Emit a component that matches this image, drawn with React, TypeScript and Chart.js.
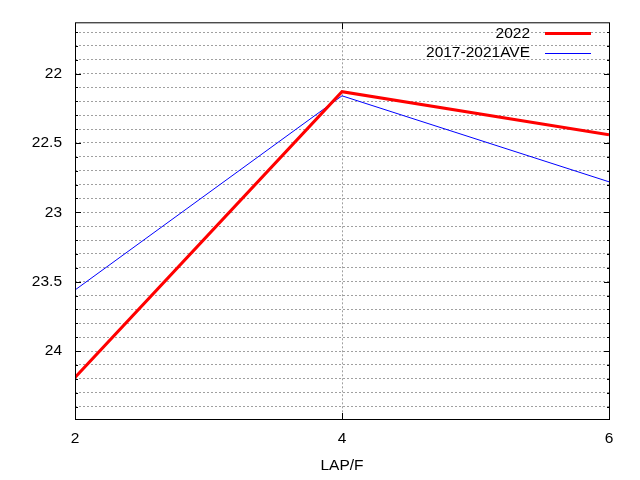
import { useEffect, useRef } from 'react';
import { Chart, registerables } from 'chart.js';

Chart.register(...registerables);

// values
const laps = [2, 4, 6];
const times2022 = [24.19, 22.13, 22.44];
const timesAve = [23.56, 22.16, 22.78];
const seriesNames = ['2022', '2017-2021AVE'];
const seriesColors = ['#ff0000', '#0000ff'];
const seriesWidths = [3, 1];

const FONT = "'Liberation Sans', Arial, sans-serif";
const FONT_SIZE = 15.5;
const GRID = '#a0a0a0';

const isMajor = (v: number) => Math.abs(v * 2 - Math.round(v * 2)) < 1e-6;

// gnuplot-like frame, inward tick marks and a legend inside the plot
const framePlugin = {
  id: 'frame',
  afterDatasetsDraw(chart: any) {
    const { ctx, chartArea } = chart;
    const { left, right, top, bottom } = chartArea;
    const xs = chart.scales.x;
    const ys = chart.scales.y;
    ctx.save();
    ctx.strokeStyle = '#000';
    ctx.lineWidth = 1;
    ctx.setLineDash([]);
    ctx.strokeRect(left + 0.5, top + 0.5, right - left, bottom - top);

    ctx.beginPath();
    ys.ticks.forEach((t: any) => {
      const y = Math.round(ys.getPixelForValue(t.value)) + 0.5;
      const len = isMajor(t.value) ? 6 : 3;
      ctx.moveTo(left, y);
      ctx.lineTo(left + len, y);
      ctx.moveTo(right + 1, y);
      ctx.lineTo(right + 1 - len, y);
    });
    xs.ticks.forEach((t: any) => {
      const x = Math.round(xs.getPixelForValue(t.value)) + 0.5;
      ctx.moveTo(x, bottom);
      ctx.lineTo(x, bottom - 6);
      ctx.moveTo(x, top + 1);
      ctx.lineTo(x, top + 7);
    });
    ctx.stroke();

    // legend
    ctx.font = `${FONT_SIZE}px ${FONT}`;
    ctx.textAlign = 'right';
    ctx.textBaseline = 'middle';
    seriesNames.forEach((name, i) => {
      const y = 33 + i * 19.5;
      ctx.fillStyle = '#000';
      ctx.fillText(name, right - 79, y + 0.5);
      ctx.strokeStyle = seriesColors[i];
      ctx.lineWidth = seriesWidths[i];
      ctx.beginPath();
      ctx.moveTo(right - 64, Math.round(y) + (seriesWidths[i] % 2 ? 0.5 : 0));
      ctx.lineTo(right - 18, Math.round(y) + (seriesWidths[i] % 2 ? 0.5 : 0));
      ctx.stroke();
    });
    ctx.restore();
  },
};

const App = () => {
  const canvasRef = useRef<HTMLCanvasElement | null>(null);
  const chartRef = useRef<Chart | null>(null);

  useEffect(() => {
    document.body.style.margin = '0';
    if (!canvasRef.current) return;
    if (chartRef.current) chartRef.current.destroy();

    const series = [times2022, timesAve];

    chartRef.current = new Chart(canvasRef.current, {
      type: 'line',
      data: {
        datasets: series.map((vals, i) => ({
          label: seriesNames[i],
          data: laps.map((x, j) => ({ x, y: vals[j] })),
          borderColor: seriesColors[i],
          borderWidth: seriesWidths[i],
          pointRadius: 0,
          tension: 0,
          fill: false,
        })),
      },
      options: {
        responsive: false,
        animation: false,
        layout: { padding: { top: 19, right: 31, left: 0, bottom: 0 } },
        plugins: {
          legend: { display: false },
          tooltip: { enabled: false },
        },
        scales: {
          x: {
            type: 'linear',
            min: 2,
            max: 6,
            afterFit: (scale: any) => {
              scale.height = 61;
            },
            ticks: {
              stepSize: 2,
              padding: 10,
              color: '#000',
              font: { family: FONT, size: FONT_SIZE },
            },
            grid: {
              drawTicks: false,
              color: (c: any) => (c.tick && c.tick.value === 4 ? GRID : 'rgba(0,0,0,0)'),
            },
            border: { display: false, dash: [2, 2] },
            title: {
              display: true,
              text: 'LAP/F',
              color: '#000',
              font: { family: FONT, size: FONT_SIZE },
              padding: { top: 5, bottom: 5 },
            },
          },
          y: {
            type: 'linear',
            reverse: true,
            min: 21.63,
            max: 24.49,
            afterFit: (scale: any) => {
              scale.width = 75;
            },
            ticks: {
              stepSize: 0.1,
              includeBounds: false,
              autoSkip: false,
              padding: 13,
              color: '#000',
              font: { family: FONT, size: FONT_SIZE },
              callback: (v: any) => (isMajor(Number(v)) ? String(Math.round(Number(v) * 2) / 2) : ''),
            },
            grid: {
              drawTicks: false,
              color: GRID,
            },
            border: { display: false, dash: [2, 2] },
          },
        },
      },
      plugins: [framePlugin],
    });

    return () => {
      if (chartRef.current) {
        chartRef.current.destroy();
        chartRef.current = null;
      }
    };
  }, []);

  return (
    <div style={{ width: 640, height: 480, background: '#fff' }}>
      <canvas ref={canvasRef} width={640} height={480} style={{ display: 'block' }} />
    </div>
  );
};

export default App;
